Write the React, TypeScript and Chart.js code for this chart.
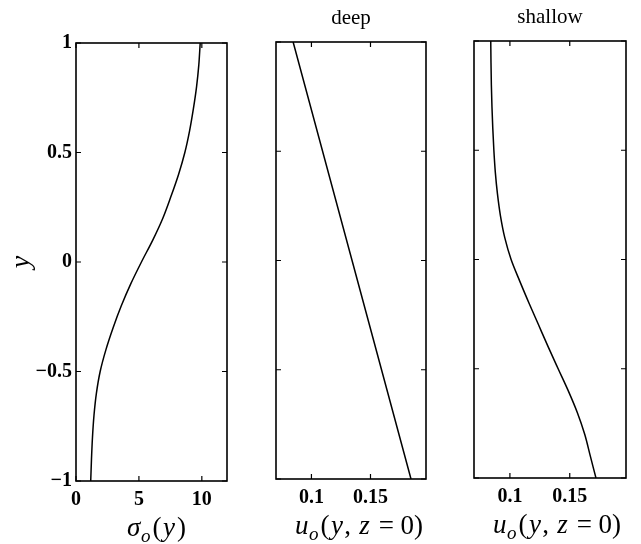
import React, { useEffect, useRef } from "react";
import { Chart, registerables } from "chart.js";

Chart.register(...registerables);

// ---- data ----
const Y_TICKS = [-1, -0.5, 0, 0.5, 1];
const SIGMA_X_TICKS = [0, 5, 10];
const U_X_TICKS = [0.1, 0.15];

const PROFILE_Y = [1, 0.9, 0.8, 0.7, 0.6, 0.5, 0.4, 0.3, 0.2, 0.1, 0, -0.1, -0.2, -0.3, -0.4, -0.5, -0.6, -0.7, -0.8, -0.9, -1];
const SIGMA_X = [9.87, 9.76, 9.58, 9.33, 9.03, 8.65, 8.15, 7.55, 6.9, 6.1, 5.2, 4.35, 3.6, 2.95, 2.38, 1.92, 1.62, 1.43, 1.31, 1.23, 1.17];

const DEEP_Y = [1, -1];
const DEEP_X = [0.0845, 0.1843];

const SHALLOW_X = [0.084, 0.0842, 0.0845, 0.085, 0.0857, 0.0866, 0.0878, 0.0896, 0.0921, 0.0957, 0.101, 0.1083, 0.116, 0.124, 0.132, 0.1403, 0.1487, 0.1563, 0.1625, 0.1672, 0.1719];

const W = 641;
const H = 544;
const XH = 40;
const SERIF = "'Liberation Serif', 'Times New Roman', serif";

type Seg = { t: string; it?: boolean; sub?: boolean; g?: number };

const SIGMA_LABEL: Seg[] = [
  { t: "σ", it: true, g: 0.5 },
  { t: "o", it: true, sub: true, g: 2 },
  { t: "(", g: 1.5 },
  { t: "y", it: true, g: 2 },
  { t: ")" },
];
const U_LABEL: Seg[] = [
  { t: "u", it: true, g: 0.5 },
  { t: "o", it: true, sub: true, g: 2 },
  { t: "(", g: 1.5 },
  { t: "y", it: true, g: 1.5 },
  { t: ", ", g: 1.5 },
  { t: "z", it: true, g: 2 },
  { t: " = 0)" },
];
const Y_LABEL: Seg[] = [{ t: "y", it: true }];

function drawMath(ctx: CanvasRenderingContext2D, segs: Seg[], cx: number, baseY: number, size: number) {
  const fontFor = (s: Seg) => `${s.it ? "italic " : ""}${s.sub ? Math.round(size * 0.7) : size}px ${SERIF}`;
  let total = 0;
  const widths = segs.map((s) => {
    ctx.font = fontFor(s);
    const w = ctx.measureText(s.t).width + (s.g || 0);
    total += w;
    return w;
  });
  let x = cx - total / 2;
  ctx.textAlign = "left";
  ctx.textBaseline = "alphabetic";
  segs.forEach((s, i) => {
    ctx.font = fontFor(s);
    ctx.fillText(s.t, x, baseY + (s.sub ? size * 0.22 : 0));
    x += widths[i];
  });
}

type Panel = {
  xs: number[];
  ys: number[];
  xMin: number;
  xMax: number;
  xTicks: number[];
  left: number;
  right: number;
  top: number;
  bottom: number;
  yLabels: boolean;
  title?: string;
  xLabel: Seg[];
  xLabelDx: number;
};

const PANELS: Panel[] = [
  { xs: SIGMA_X, ys: PROFILE_Y, xMin: 0, xMax: 12, xTicks: SIGMA_X_TICKS, left: 76, right: 227, top: 43, bottom: 481, yLabels: true, xLabel: SIGMA_LABEL, xLabelDx: 5 },
  { xs: DEEP_X, ys: DEEP_Y, xMin: 0.07, xMax: 0.197, xTicks: U_X_TICKS, left: 276, right: 426, top: 42, bottom: 479, yLabels: false, title: "deep", xLabel: U_LABEL, xLabelDx: 8 },
  { xs: SHALLOW_X, ys: PROFILE_Y, xMin: 0.07, xMax: 0.197, xTicks: U_X_TICKS, left: 474, right: 626, top: 41, bottom: 478, yLabels: false, title: "shallow", xLabel: U_LABEL, xLabelDx: 7 },
];

const fmt = (v: number) => {
  const s = String(Math.round(v * 1000) / 1000);
  return s.replace("-", "\u2212");
};

function makeChart(canvas: HTMLCanvasElement, p: Panel) {
  const yW = p.yLabels ? 60 : 0;
  const framePlugin = {
    id: "frame",
    afterDraw(chart: any) {
      const { ctx, chartArea: a } = chart;
      const x = chart.scales.x;
      const y = chart.scales.y;
      ctx.save();
      ctx.strokeStyle = "#000";
      ctx.lineWidth = 1.6;
      ctx.strokeRect(a.left, a.top, a.right - a.left, a.bottom - a.top);
      const L = 5;
      ctx.lineWidth = 1.2;
      ctx.beginPath();
      x.ticks.forEach((t: any) => {
        const px = x.getPixelForValue(t.value);
        ctx.moveTo(px, a.bottom);
        ctx.lineTo(px, a.bottom - L);
        ctx.moveTo(px, a.top);
        ctx.lineTo(px, a.top + L);
      });
      y.ticks.forEach((t: any) => {
        const py = y.getPixelForValue(t.value);
        ctx.moveTo(a.left, py);
        ctx.lineTo(a.left + L, py);
        ctx.moveTo(a.right, py);
        ctx.lineTo(a.right - L, py);
      });
      ctx.stroke();
      ctx.fillStyle = "#000";
      const cx = (a.left + a.right) / 2;
      if (p.title) {
        ctx.font = `21px ${SERIF}`;
        ctx.textAlign = "center";
        ctx.textBaseline = "alphabetic";
        ctx.fillText(p.title, cx, a.top - 18);
      }
      drawMath(ctx, p.xLabel, cx + p.xLabelDx, a.bottom + 55, 27);
      if (p.yLabels) {
        ctx.save();
        ctx.translate(29, (a.top + a.bottom) / 2);
        ctx.rotate(-Math.PI / 2);
        drawMath(ctx, Y_LABEL, 0, 0, 28);
        ctx.restore();
      }
      ctx.restore();
    },
  };

  return new Chart(canvas, {
    type: "line",
    data: {
      datasets: [
        {
          data: p.xs.map((x, i) => ({ x, y: p.ys[i] })),
          borderColor: "#000",
          borderWidth: 1.5,
          pointRadius: 0,
          cubicInterpolationMode: "monotone",
          fill: false,
        },
      ],
    },
    options: {
      indexAxis: "y",
      responsive: false,
      animation: false,
      devicePixelRatio: 1,
      events: [],
      layout: {
        padding: { left: p.left - yW, right: W - p.right, top: p.top, bottom: H - p.bottom - XH },
      },
      plugins: { legend: { display: false }, tooltip: { enabled: false }, title: { display: false } },
      scales: {
        x: {
          type: "linear",
          min: p.xMin,
          max: p.xMax,
          afterBuildTicks: (s: any) => {
            s.ticks = p.xTicks.map((v) => ({ value: v }));
          },
          afterFit: (s: any) => {
            s.height = XH;
          },
          grid: { display: false, drawTicks: false },
          border: { display: false },
          ticks: {
            color: "#000",
            padding: 7,
            maxRotation: 0,
            autoSkip: false,
            font: { family: SERIF, size: 20, weight: "bold" },
            callback: (v: any) => fmt(Number(v)),
          },
        },
        y: {
          type: "linear",
          min: -1,
          max: 1,
          afterBuildTicks: (s: any) => {
            s.ticks = Y_TICKS.map((v) => ({ value: v }));
          },
          afterFit: (s: any) => {
            s.width = yW;
          },
          grid: { display: false, drawTicks: false },
          border: { display: false },
          ticks: {
            display: p.yLabels,
            color: "#000",
            padding: 4,
            autoSkip: false,
            font: { family: SERIF, size: 20, weight: "bold" },
            callback: (v: any) => fmt(Number(v)),
          },
        },
      },
    },
    plugins: [framePlugin],
  } as any);
}

function PanelCanvas({ p }: { p: Panel }) {
  const ref = useRef<HTMLCanvasElement | null>(null);
  useEffect(() => {
    if (!ref.current) return;
    const c = makeChart(ref.current, p);
    return () => c.destroy();
  }, [p]);
  return <canvas ref={ref} width={W} height={H} style={{ position: "absolute", left: 0, top: 0, width: W, height: H }} />;
}

export default function App() {
  return (
    <div style={{ position: "absolute", left: 0, top: 0, width: W, height: H, background: "#fff", overflow: "hidden" }}>
      {PANELS.map((p, i) => (
        <PanelCanvas key={i} p={p} />
      ))}
    </div>
  );
}
